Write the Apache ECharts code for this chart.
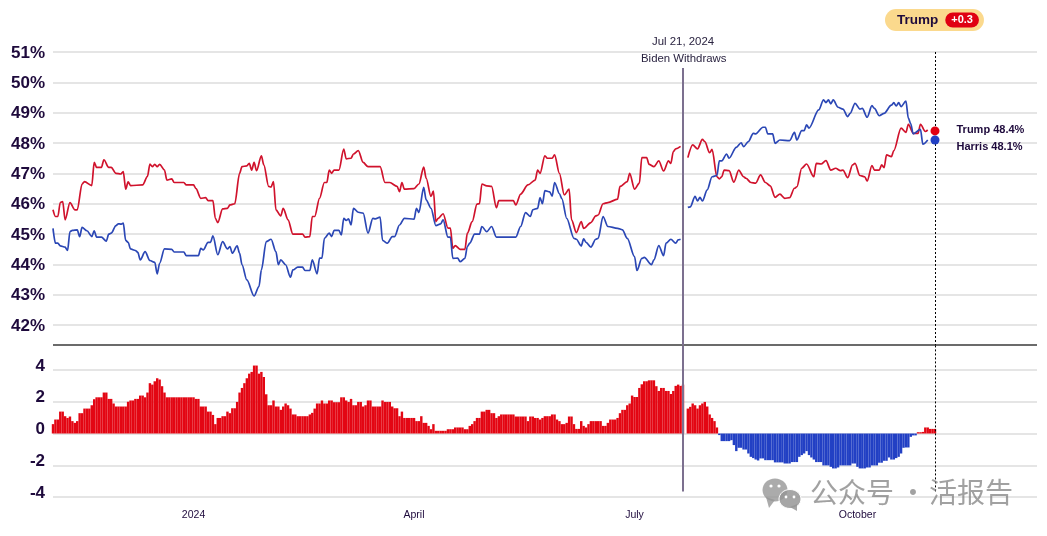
<!DOCTYPE html>
<html>
<head>
<meta charset="utf-8">
<title>Trump vs Harris polling average</title>
<script src="https://cdn.jsdelivr.net/npm/echarts@6/dist/echarts.min.js"></script>
<style>
html, body { margin: 0; padding: 0; background: #fff; }
#chart { width: 1047px; height: 536px; }
</style>
</head>
<body>
<div id="chart"></div>
<script>
// day numbers count from firstDate
const firstDate = '2023-11-04'

const trumpDays = [0,1,2,3,4,5,7,9,10,12,13,16,17,18,20,21,23,24,26,28,29,30,31,32,37,39,40,41,42,43,44,46,47,49,50,54,55,58,59,61,63,64,66,67,68,70,72,73,75,77,78,80,81,82,83,84,86,87,89,90,91,92,94,95,97,99,103,104,106,107,108,110,112,113,114,115,116,118,120,121,123,124,126,128,130,135,137,139,142,143,144,145,149,151,153,154,156,157,158,159,161,163,164,165,166,168,170,171,173,175,176,177,179,181,183,184,190,191,193,196,199,200,201,203,204,206,207,209,211,213,214,216,218,219,222,224,225,227,229,233,234,237,238,240,242,243,245,246,248,250,252,254,255,256,257,259]
const trumpPct = [45.8,45.58,45.58,46.04,46.07,45.47,46.04,45.8,45.8,46.65,46.73,46.6,47.36,47.2,47.2,47.45,47.2,47.2,47,46.98,47.06,46.48,46.72,46.6,46.62,46.9,47.31,47.22,47.3,47.22,47.3,47.11,46.78,46.82,46.7,46.7,46.62,46.62,46.5,46.18,46.2,46.1,46.1,45.52,45.38,45.83,45.85,45.96,46,47,47.22,47.25,47.33,47.11,47.36,47.09,47.58,47.28,46.57,46.55,46.73,45.8,45.6,45.85,45.47,45,45,44.9,44.92,45.58,45.58,46.18,46.7,46.7,47.11,47,47.11,47.11,47.8,47.48,47.5,47.64,47.75,47.36,47.22,47.22,46.7,46.7,46.57,46.4,46.7,46.48,46.5,46.65,47.21,46.84,46.24,46.42,45.41,45.52,45.67,45.2,45.2,44.53,44.62,44.5,44.5,45.03,45.41,45.99,46,46.65,46.59,46.57,45.87,46.1,46.1,45.96,46.32,46.62,46.78,47.11,47,47.58,47.5,47.5,47.61,47,46.29,46.48,45.47,45.05,45.41,45.19,45.38,45.6,45.63,46,46.04,46.15,46.57,46.73,47,46.48,46.68,47.52,47.52,47.3,47.22,47.41,47.08,47.41,47.33,47.72,47.81,47.89]
const trumpDays2 = [262,264,266,268,269,271,272,274,275,276,277,279,281,283,285,286,288,290,292,294,296,298,300,302,304,306,307,309,311,314,315,317,319,321,323,325,326,328,330,331,333,335,336,338,339,341,342,343,344,346,347,350,352,353,355,357,358,360,361]
const trumpPct2 = [47.52,47.94,47.81,48.12,48.05,47.68,47.79,46.89,46.82,46.89,47.11,47.09,46.71,47.11,46.89,46.84,46.7,46.68,46.95,46.7,46.59,46.21,46.32,46.18,46.2,46.51,46.56,47.17,47.31,46.89,47.33,47.31,47.42,47.11,47.17,47.09,47.11,46.86,47.28,47.33,46.93,46.89,46.75,47.26,47.11,47.11,47.28,47.19,47.61,47.55,47.75,48.49,48.35,48.62,48.32,48.32,48.62,48.38,48.43]

const harrisDays = [0,1,2,3,5,6,7,8,10,11,12,14,16,17,18,20,22,23,24,26,27,28,29,30,31,32,34,35,36,38,40,42,43,44,46,49,50,54,55,60,61,62,64,65,66,68,70,72,73,74,76,77,78,80,83,85,86,88,90,92,93,94,96,98,99,101,103,104,106,107,109,110,111,112,114,115,116,118,119,120,121,122,123,124,126,128,130,132,133,135,136,138,140,141,143,145,149,150,151,153,154,156,158,160,161,163,164,165,167,168,170,171,172,174,176,177,179,181,183,191,193,195,197,198,200,201,202,203,205,206,207,209,210,212,215,216,218,219,220,222,224,225,227,229,233,235,237,240,241,243,244,247,248,250,252,253,255,257,258,259]
const harrisPct = [45.19,44.7,44.7,44.61,44.57,44.46,45.08,45.12,45.14,44.92,45.22,45.11,44.92,45.11,44.9,44.9,44.77,45,45.03,45.28,45.34,45.33,45.36,44.79,44.73,44.51,44.46,44.4,44.15,44.42,44.13,44.07,43.69,44.04,44.51,44.5,44.41,44.41,44.29,44.29,44.53,44.48,44.73,44.73,44.94,44.32,44.75,44.51,44.59,44.37,44.61,44.37,43.99,43.49,42.96,43.27,43.82,44.75,44.83,44.42,43.99,44.15,43.99,43.58,43.82,43.91,43.91,43.8,43.8,44.15,43.69,44.21,44.21,44.86,45.03,44.92,45.12,45.12,44.97,45.52,45.45,45.5,45.3,45.85,45.72,45.69,45.03,45.52,45.5,45.56,44.79,44.7,44.92,44.92,45.3,45.52,45.49,45.85,45.71,46.54,46.13,45.85,45.28,45.34,45.47,44.9,44.9,44.2,44.21,44.09,44.2,44.59,44.7,45,45,45.25,45.08,45.25,44.9,44.9,45.25,45.71,45.58,45.8,45.85,46.2,46,46.43,46.39,46.25,46.7,46.33,46.17,45.52,44.86,44.83,44.61,44.84,44.73,44.57,44.83,44.86,45.58,45.25,45.19,45.14,44.86,44.26,43.8,44.2,44.23,43.99,44.15,44.62,44.29,44.7,44.83,44.7,44.81,44.83]
const harrisDays2 = [262,263,265,266,267,268,270,272,274,275,276,278,279,282,284,285,287,289,290,293,294,295,297,298,300,304,306,307,309,310,311,312,316,318,319,320,321,322,324,326,328,329,331,333,334,336,338,339,341,343,346,347,348,349,350,352,353,354,355,358,359,361]
const harrisPct2 = [45.88,45.9,46.24,46.09,46.21,46.09,46.46,46.89,46.93,47.41,47.41,47.64,47.5,47.86,48.01,47.88,48.05,48.32,48.3,48.52,48.52,48.3,48.3,47.99,48.1,48.08,48.35,48.1,48.41,48.41,48.6,48.49,49.09,49.42,49.33,49.42,49.29,49.42,49.18,49.12,48.87,48.98,49.31,49.12,49.14,48.85,49.23,49.14,48.9,48.98,49.25,49.33,49.22,49.33,49.2,49.38,48.82,48.63,48.3,48.45,47.96,48.1]

// one bar per day, null where the gap is after Jul 21
const margin = [0.59,0.88,0.88,1.38,1.38,1.09,0.98,1.07,0.78,0.67,0.78,1.28,1.28,1.57,1.57,1.57,1.78,2.16,2.28,2.28,2.28,2.58,2.58,2.18,2.18,1.89,1.7,1.7,1.7,1.7,1.7,2,2.08,2.08,2.18,2.18,2.39,2.39,2.28,2.58,3.17,3.08,3.29,3.48,3.4,2.98,2.58,2.28,2.28,2.28,2.28,2.28,2.28,2.28,2.28,2.28,2.28,2.28,2.28,2.18,2.18,1.7,1.7,1.7,1.38,1.38,1.17,0.59,0.98,0.98,1.09,1.09,1.38,1.28,1.59,1.59,1.99,2.58,2.87,3.17,3.48,3.77,3.88,4.28,4.28,3.77,3.88,3.56,2.47,1.78,1.78,2.08,1.7,1.7,1.49,1.7,1.89,1.78,1.57,1.2,1.2,1.09,1.09,1.09,1.09,1.09,1.2,1.3,1.57,1.89,1.89,2.08,1.89,1.89,2.08,2.08,1.97,1.97,1.97,2.28,2.28,2.08,1.99,2.18,1.78,1.78,1.99,1.99,1.7,1.78,2.08,2.08,1.7,1.7,1.7,1.7,2.08,1.99,1.99,1.99,1.7,1.59,1.59,1.09,1.38,0.98,0.98,0.98,0.98,0.98,0.78,0.78,1.09,0.67,0.67,0.48,0.27,0.59,0.17,0.17,0.17,0.17,0.17,0.27,0.27,0.27,0.38,0.38,0.38,0.38,0.27,0.27,0.48,0.59,0.78,0.98,0.98,1.38,1.38,1.49,1.49,1.28,1.28,0.98,1.09,1.2,1.2,1.2,1.2,1.2,1.2,1.07,1.07,1.07,1.07,1.07,0.78,1.07,1.07,0.98,0.98,0.88,0.98,1.09,1.09,1.09,1.2,1.2,0.88,0.78,0.59,0.59,0.67,1.07,1.07,0.59,0.29,0.29,0.78,0.48,0.38,0.59,0.78,0.78,0.78,0.78,0.78,0.48,0.48,0.67,0.88,0.88,0.88,0.98,1.28,1.49,1.49,1.78,1.89,2.39,2.3,2.3,2.87,3.1,3.29,3.29,3.35,3.35,3.35,2.98,2.68,2.87,2.87,2.68,2.68,2.49,2.68,3,3.08,3,3.08,null,1.57,1.68,1.89,1.78,1.57,1.78,1.89,1.99,1.7,1.2,0.98,0.78,0.38,-0.1,-0.48,-0.48,-0.48,-0.48,-0.42,-0.73,-1.11,-0.9,-0.9,-1.01,-1.01,-1.26,-1.47,-1.55,-1.64,-1.7,-1.57,-1.57,-1.68,-1.68,-1.68,-1.68,-1.82,-1.82,-1.82,-1.82,-1.89,-1.89,-1.89,-1.8,-1.8,-1.8,-1.47,-1.36,-1.26,-1.11,-1.36,-1.51,-1.64,-1.8,-1.8,-1.8,-2.01,-2.01,-2.01,-2.1,-2.2,-2.2,-2.14,-2.01,-2.01,-2.01,-2.01,-2.01,-1.89,-1.89,-2.1,-2.2,-2.2,-2.2,-2.14,-2.14,-2.01,-2.01,-2.01,-1.84,-1.84,-1.72,-1.72,-1.51,-1.64,-1.64,-1.55,-1.47,-1.26,-0.9,-0.88,-0.88,-0.21,-0.12,-0.12,0.08,0.08,0.1,0.38,0.38,0.29,0.29,0.29]

const tickDates = ['2024-01-01','2024-04-01','2024-07-01','2024-10-01']
const tickNames = ['2024','April','July','October']
const eventDate = '2024-07-21'
const lastDate = '2024-11-02'
const lastTrump = 48.4
const lastHarris = 48.1

const toDay = d => Math.round((Date.parse(d) - Date.parse(firstDate)) / 86400000)
const pairs = (days, vals) => days.map((d, i) => [d, vals[i]])
const eventDay = toDay(eventDate)
const lastDay = toDay(lastDate)
const tickDays = tickDates.map(toDay)
const axisEnd = 406.1

const ink = '#1e0a3c'
const red = '#d0122c'
const blue = '#2b47b5'
const barRed = '#e30613'
const barBlue = '#2240c4'
const eventColor = '#7c708f'
const ruleColor = '#6b6b6b'
const font = 'Liberation Sans'

const eventStyle = { color: eventColor, width: 2, type: 'solid' }
const dotStyle = { color: '#000', width: 1, type: [2, 2] }

const xBase = {
  type: 'value',
  min: 0,
  max: axisEnd,
  axisLine: { show: false },
  axisTick: { show: false },
  splitLine: { show: false }
}
const yLabel = { fontFamily: font, fontSize: 17, fontWeight: 'bold', color: ink, margin: 8 }
const gridLine = { color: '#dcdcdc', width: 1.5 }

const option = {
  animation: false,
  title: {
    text: '{t|Trump} {v|+0.3}',
    left: 885,
    top: 9,
    backgroundColor: '#fbd98d',
    borderRadius: 11,
    padding: [2, 5, 2, 12],
    textStyle: {
      fontFamily: font,
      rich: {
        t: { fontSize: 13.5, fontWeight: 'bold', color: ink, padding: [0, 2, 0, 0] },
        v: { fontSize: 11, fontWeight: 'bold', color: '#fff', backgroundColor: '#e00012', borderRadius: 8, padding: [2, 6, 2, 6] }
      }
    }
  },
  grid: [
    { left: 53, width: 984, top: 52, height: 303.5 },
    { left: 53, width: 984, top: 338.25, height: 158.75 }
  ],
  xAxis: [
    Object.assign({ gridIndex: 0, axisLabel: { show: false } }, xBase),
    Object.assign({
      gridIndex: 1,
      axisLabel: {
        customValues: tickDays,
        formatter: v => tickNames[tickDays.indexOf(v)] || '',
        fontFamily: font,
        fontSize: 10.5,
        color: ink,
        margin: 13
      }
    }, xBase)
  ],
  yAxis: [
    {
      gridIndex: 0,
      type: 'value',
      min: 41,
      max: 51,
      interval: 1,
      axisLine: { show: false },
      axisTick: { show: false },
      splitLine: { showMinLine: false, lineStyle: gridLine },
      axisLabel: Object.assign({ showMinLabel: false, formatter: '{value}%', verticalAlign: 'top', lineHeight: 2 }, yLabel)
    },
    {
      gridIndex: 1,
      type: 'value',
      min: -4,
      max: 6,
      interval: 2,
      axisLine: { show: false },
      axisTick: { show: false },
      splitLine: { showMaxLine: false, lineStyle: gridLine },
      axisLabel: Object.assign({ showMaxLabel: false, verticalAlign: 'bottom', lineHeight: 8 }, yLabel)
    }
  ],
  series: [
    {
      name: 'Trump',
      type: 'line',
      xAxisIndex: 0,
      yAxisIndex: 0,
      showSymbol: false,
      smooth: 0.3,
      smoothMonotone: 'x',
      lineStyle: { color: red, width: 1.7 },
      itemStyle: { color: red },
      data: pairs(trumpDays, trumpPct).concat([[eventDay + 1, null]], pairs(trumpDays2, trumpPct2)),
      markLine: {
        silent: true,
        symbol: 'none',
        label: { show: false },
        data: [
          [
            { coord: [0, 41.35], lineStyle: { color: ruleColor, width: 2, type: 'solid' } },
            { coord: [axisEnd, 41.35] }
          ],
          [
            { coord: [eventDay, 50.47], lineStyle: eventStyle },
            { coord: [eventDay, 41.35] }
          ],
          [
            { coord: [lastDay, 51], lineStyle: dotStyle },
            { coord: [lastDay, 41.35] }
          ]
        ]
      }
    },
    {
      name: 'Harris',
      type: 'line',
      xAxisIndex: 0,
      yAxisIndex: 0,
      showSymbol: false,
      smooth: 0.3,
      smoothMonotone: 'x',
      lineStyle: { color: blue, width: 1.7 },
      itemStyle: { color: blue },
      data: pairs(harrisDays, harrisPct).concat([[eventDay + 1, null]], pairs(harrisDays2, harrisPct2))
    },
    {
      type: 'scatter',
      xAxisIndex: 0,
      yAxisIndex: 0,
      symbolSize: 9,
      itemStyle: { color: '#e00012', opacity: 1 },
      z: 5,
      label: {
        show: true,
        position: 'right',
        distance: 17,
        offset: [0, -1],
        formatter: 'Trump ' + lastTrump.toFixed(1) + '%',
        fontFamily: font,
        fontSize: 11,
        fontWeight: 'bold',
        color: ink
      },
      data: [[lastDay, lastTrump]]
    },
    {
      type: 'scatter',
      xAxisIndex: 0,
      yAxisIndex: 0,
      symbolSize: 9,
      itemStyle: { color: '#2240c4', opacity: 1 },
      z: 5,
      label: {
        show: true,
        position: 'right',
        distance: 17,
        offset: [0, 7],
        formatter: 'Harris ' + lastHarris.toFixed(1) + '%',
        fontFamily: font,
        fontSize: 11,
        fontWeight: 'bold',
        color: ink
      },
      data: [[lastDay, lastHarris]]
    },
    {
      name: 'Margin',
      type: 'bar',
      xAxisIndex: 1,
      yAxisIndex: 1,
      barWidth: 2.42,
      itemStyle: { color: p => (p.value[1] >= 0 ? barRed : barBlue) },
      data: margin.map((v, i) => [i, v]),
      markLine: {
        silent: true,
        symbol: 'none',
        label: { show: false },
        data: [
          [
            { coord: [eventDay, 5.55], lineStyle: eventStyle },
            { coord: [eventDay, -3.65] }
          ],
          [
            { coord: [lastDay, 5.55], lineStyle: dotStyle },
            { coord: [lastDay, -3.65] }
          ]
        ]
      }
    }
  ],
  graphic: [
    // event label above the vertical line
    { type: 'text', left: 652, top: 36, silent: true, style: { text: 'Jul 21, 2024', font: '11.4px "Liberation Sans"', fill: '#2a2340' } },
    { type: 'text', left: 641, top: 53, silent: true, style: { text: 'Biden Withdraws', font: '11.4px "Liberation Sans"', fill: '#2a2340' } },
    // watermark
    { type: 'ellipse', silent: true, z: 50, shape: { cx: 775, cy: 490, rx: 12.5, ry: 11.5 }, style: { fill: 'rgba(150,150,150,0.8)' } },
    { type: 'polygon', silent: true, z: 50, shape: { points: [[766, 497], [775, 500], [769, 508]] }, style: { fill: 'rgba(150,150,150,0.8)' } },
    { type: 'ellipse', silent: true, z: 51, shape: { cx: 790, cy: 499, rx: 11, ry: 9.5 }, style: { fill: 'rgba(150,150,150,0.85)', stroke: '#fff', lineWidth: 1 } },
    { type: 'polygon', silent: true, z: 51, shape: { points: [[790, 507], [797, 504], [797, 511]] }, style: { fill: 'rgba(150,150,150,0.85)' } },
    { type: 'circle', silent: true, z: 52, shape: { cx: 771, cy: 486, r: 1.6 }, style: { fill: '#fff' } },
    { type: 'circle', silent: true, z: 52, shape: { cx: 779, cy: 486, r: 1.6 }, style: { fill: '#fff' } },
    { type: 'circle', silent: true, z: 52, shape: { cx: 786, cy: 497, r: 1.4 }, style: { fill: '#fff' } },
    { type: 'circle', silent: true, z: 52, shape: { cx: 794, cy: 497, r: 1.4 }, style: { fill: '#fff' } },
    { type: 'text', left: 810, top: 478, silent: true, z: 50, style: { text: '公众号', font: '28px "Noto Sans CJK SC"', fill: 'rgba(130,130,130,0.75)' } },
    { type: 'text', left: 899, top: 478, silent: true, z: 50, style: { text: '·', font: '28px "Noto Sans CJK SC"', fill: 'rgba(130,130,130,0.75)' } },
    { type: 'text', left: 929, top: 478, silent: true, z: 50, style: { text: '活报告', font: '28px "Noto Sans CJK SC"', fill: 'rgba(130,130,130,0.75)' } }
  ]
}

const myChart = echarts.init(document.getElementById('chart'))
myChart.setOption(option)
</script>
</body>
</html>
